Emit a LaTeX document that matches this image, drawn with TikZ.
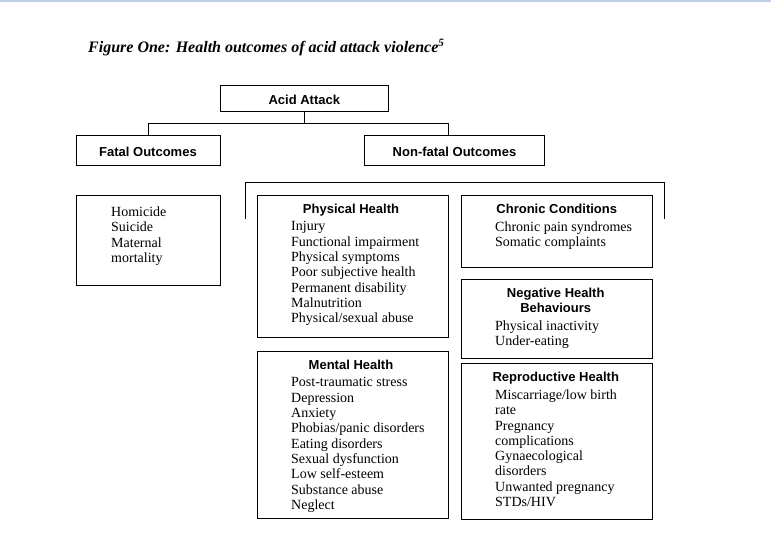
\documentclass[tikz,border=0pt]{standalone}
\usepackage{fontspec}
\setmainfont{Liberation Serif}
\setsansfont{Liberation Sans}
\usepackage{tikz}
\usetikzlibrary{positioning, calc}
\definecolor{FigBlack}{HTML}{000000}
\definecolor{FigWhite}{HTML}{FFFFFF}
\definecolor{FigFrame}{HTML}{BFD0E6}
\tikzset{
    box/.style={
        draw=FigBlack,
        fill=FigWhite,
        line width=1pt,
        inner sep=0pt,
        text height=12.3pt,
        text depth=0pt,
        font=\sffamily\bfseries\fontsize{13}{15}\selectfont,
        align=center
    },
    groupbox/.style={
        draw=FigBlack,
        line width=1pt,
        inner sep=0pt,
        anchor=north west
    },
    heading/.style={
        font=\sffamily\bfseries\fontsize{13}{15}\selectfont,
        text=FigBlack,
        align=center,
        inner sep=0pt
    },
    itemlist/.style={
        font=\fontsize{14}{15.3}\selectfont,
        text=FigBlack,
        align=left,
        inner sep=0pt,
        anchor=north west
    },
    link/.style={
        line width=1pt,
        FigBlack
    }
}

\begin{document}
\begin{tikzpicture}[x=1pt, y=-1pt]
        \useasboundingbox (0,0) rectangle (771,537);
        \fill[FigFrame] (0,0) rectangle (771,2.5);

        % title
        \node[anchor=base west, inner sep=0pt, font=\bfseries\itshape\fontsize{16}{19}\selectfont] (title) at (88,53)
            {Figure One: Health outcomes of acid attack violence\textsuperscript{5}};

        % top of the tree
        \node[box, minimum width=168pt, minimum height=25.5pt] (acid) at (304.3,98.5) {Acid Attack};
        \node[box, minimum width=144pt, minimum height=30pt] (fatal) at (148,150.3) {Fatal Outcomes};
        \node[box, minimum width=180pt, minimum height=30pt] (nonfatal) at (454.5,150.3) {Non-fatal Outcomes};

        \coordinate (split) at ($(acid.south)+(0,12)$);
        \coordinate (nonfatalin) at ($(nonfatal.north)+(-6,0)$);
        \draw[link] (acid.south) -- (split) -| (fatal.north);
        \draw[link] (split) -| (nonfatalin);

        % bracket over the non-fatal groups
        \coordinate (bracketl) at (245,219);
        \coordinate (bracketr) at (664,219);
        \draw[link] (bracketl) -- (245,183) -- (664,183) -- (bracketr);

        % fatal outcomes
        \node[groupbox, minimum width=144pt, minimum height=90.5pt] (fatallist) at (76,195) {};
        \node[itemlist] (fatalitems) at ($(fatallist.north west)+(35,11.5)$)
            {Homicide\\Suicide\\Maternal\\mortality};

        % physical health
        \node[groupbox, minimum width=191pt, minimum height=142pt] (physical) at (257,195) {};
        \node[heading, anchor=base] (physicalhead) at ($(physical.north)+(-2,18.6)$) {Physical Health};
        \node[itemlist] (physicalitems) at ($(physical.north west)+(34,26.5)$)
            {Injury\\Functional impairment\\Physical symptoms\\Poor subjective health\\Permanent disability\\Malnutrition\\Physical/sexual abuse};

        % chronic conditions
        \node[groupbox, minimum width=191.5pt, minimum height=72pt] (chronic) at (460.5,195) {};
        \node[heading, anchor=base] (chronichead) at ($(chronic.north)+(0,18.6)$) {Chronic Conditions};
        \node[itemlist] (chronicitems) at ($(chronic.north west)+(34.5,26.5)$)
            {Chronic pain syndromes\\Somatic complaints};

        % negative health behaviours
        \node[groupbox, minimum width=191.5pt, minimum height=79pt] (negative) at (460.5,279) {};
        \node[heading, anchor=north] (negativehead) at ($(negative.north)+(-1,9.3)$) {Negative Health\\Behaviours};
        \node[itemlist] (negativeitems) at ($(negative.north west)+(34.5,41.5)$)
            {Physical inactivity\\Under-eating};

        % mental health
        \node[groupbox, minimum width=191pt, minimum height=167pt] (mental) at (257,351) {};
        \node[heading, anchor=base] (mentalhead) at ($(mental.north)+(-2,18.6)$) {Mental Health};
        \node[itemlist] (mentalitems) at ($(mental.north west)+(34,26.5)$)
            {Post-traumatic stress\\Depression\\Anxiety\\Phobias/panic disorders\\Eating disorders\\Sexual dysfunction\\Low self-esteem\\Substance abuse\\Neglect};

        % reproductive health
        \node[groupbox, minimum width=191.5pt, minimum height=156pt] (reproductive) at (460.5,363) {};
        \node[heading, anchor=base] (reproductivehead) at ($(reproductive.north)+(-1,18.6)$) {Reproductive Health};
        \node[itemlist] (reproductiveitems) at ($(reproductive.north west)+(34.5,26.5)$)
            {Miscarriage/low birth\\rate\\Pregnancy\\complications\\Gynaecological\\disorders\\Unwanted pregnancy\\STDs/HIV};
    \end{tikzpicture}
\end{document}
